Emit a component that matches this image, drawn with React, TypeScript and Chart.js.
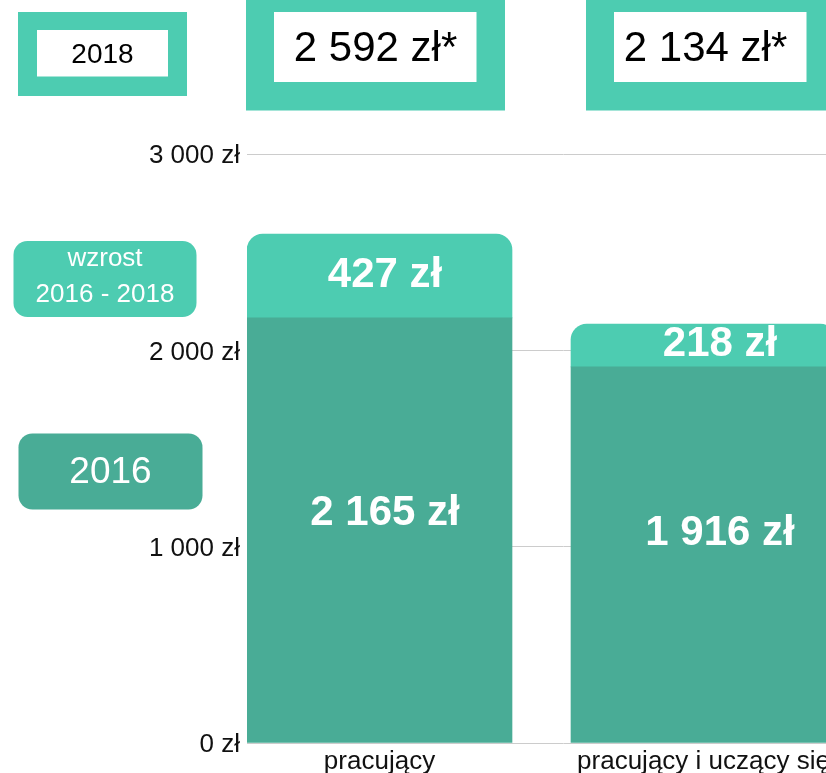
import React, { useEffect, useRef } from 'react';
import { Chart, registerables } from 'chart.js';

Chart.register(...registerables);

// ---- data ----
const categories = ['pracujący', 'pracujący i uczący się'];
const salary2016 = [2165, 1916];
const growth2016to2018 = [427, 218];
const yTickValues = [0, 1000, 2000, 3000];
const legend2018 = '2018';
const legendGrowth = ['wzrost', '2016 - 2018'];
const legend2016 = '2016';

// ---- styles ----
const LIGHT = '#4DCCB1';
const DARK = '#49AC96';
const FONT = "'Liberation Sans', Arial, sans-serif";
const TEXT = '#111111';
const X_MIN = -132.5 / 324;
const X_MAX = (880 - 379.5) / 324;
// per-bar label nudges (style only)
const LABEL_DX = [5.5, 16.5];
const BASE_LABEL_FRAC = [0.488, 0.474];
const TOTAL_DX = [-4, 2];

function fmt(v: number, star = false): string {
  return String(Math.round(v)).replace(/\B(?=(\d{3})+(?!\d))/g, ' ') + ' zł' + (star ? '*' : '');
}

const decorations = {
  id: 'decorations',
  afterDatasetsDraw(chart: any) {
    const ctx: CanvasRenderingContext2D = chart.ctx;
    const metaBase = chart.getDatasetMeta(0);
    const metaTop = chart.getDatasetMeta(1);
    ctx.save();

    // values inside bars
    ctx.fillStyle = '#ffffff';
    ctx.textAlign = 'center';
    ctx.textBaseline = 'alphabetic';
    ctx.font = `bold 42px ${FONT}`;
    metaBase.data.forEach((bar: any, i: number) => {
      const { x, y, base } = bar.getProps(['x', 'y', 'base'], true);
      ctx.fillText(fmt(salary2016[i]), x + LABEL_DX[i], y + BASE_LABEL_FRAC[i] * (base - y));
    });
    metaTop.data.forEach((bar: any, i: number) => {
      const { x, y, base } = bar.getProps(['x', 'y', 'base'], true);
      ctx.fillText(fmt(growth2016to2018[i]), x + LABEL_DX[i], (y + base) / 2 + 10.5);
    });

    // totals boxes on top
    const boxes = [
      { ox: 246, ow: 259, ix: 274, iw: 202.5 },
      { ox: 586, ow: 259, ix: 614, iw: 192.5 },
    ];
    metaTop.data.forEach((bar: any, i: number) => {
      const b = boxes[i];
      if (!b) return;
      const { x } = bar.getProps(['x'], true);
      ctx.fillStyle = LIGHT;
      ctx.fillRect(b.ox, 0, b.ow, 110.5);
      ctx.fillStyle = '#ffffff';
      ctx.fillRect(b.ix, 12, b.iw, 70);
      ctx.fillStyle = '#000000';
      ctx.font = `42px ${FONT}`;
      ctx.textAlign = 'center';
      ctx.textBaseline = 'alphabetic';
      ctx.fillText(fmt(salary2016[i] + growth2016to2018[i], true), x + TOTAL_DX[i], 61);
    });

    // legend: 2018
    ctx.fillStyle = LIGHT;
    ctx.fillRect(18, 12, 169, 84);
    ctx.fillStyle = '#ffffff';
    ctx.fillRect(37, 30, 131, 46.5);
    ctx.fillStyle = '#000000';
    ctx.font = `28px ${FONT}`;
    ctx.textAlign = 'center';
    ctx.textBaseline = 'alphabetic';
    ctx.fillText(legend2018, 102.5, 62.5);

    // legend: wzrost
    ctx.fillStyle = LIGHT;
    ctx.beginPath();
    (ctx as any).roundRect(13.5, 241, 183, 76, 14);
    ctx.fill();
    ctx.fillStyle = '#ffffff';
    ctx.font = `26px ${FONT}`;
    ctx.fillText(legendGrowth[0], 105, 265.7);
    ctx.fillText(legendGrowth[1], 105, 301.7);

    // legend: 2016
    ctx.fillStyle = DARK;
    ctx.beginPath();
    (ctx as any).roundRect(18.5, 433.5, 184, 76, 14);
    ctx.fill();
    ctx.fillStyle = '#ffffff';
    ctx.font = `37px ${FONT}`;
    ctx.fillText(legend2016, 110.5, 483.3);

    ctx.restore();
  },
};

export default function App() {
  const canvasRef = useRef<HTMLCanvasElement | null>(null);

  useEffect(() => {
    const canvas = canvasRef.current;
    if (!canvas) return;
    const chart = new Chart(canvas, {
      type: 'bar',
      data: {
        datasets: [
          {
            label: legend2016,
            data: categories.map((_, i) => ({ x: i, y: salary2016[i] })),
            backgroundColor: DARK,
            stack: 's',
            barThickness: 265,
            borderRadius: 0,
            borderSkipped: 'start',
          },
          {
            label: legendGrowth.join(' '),
            data: categories.map((_, i) => ({ x: i, y: growth2016to2018[i] })),
            backgroundColor: LIGHT,
            stack: 's',
            barThickness: 265,
            borderRadius: { topLeft: 16, topRight: 16, bottomLeft: 0, bottomRight: 0 },
            borderSkipped: 'start',
          },
        ] as any,
      },
      options: {
        responsive: false,
        animation: false,
        layout: { padding: { top: 154, left: 0, right: 0, bottom: 0 } },
        plugins: { legend: { display: false }, tooltip: { enabled: false } },
        scales: {
          x: {
            type: 'linear',
            min: X_MIN,
            max: X_MAX,
            bounds: 'data',
            offset: false,
            stacked: true,
            grid: { display: false, offset: false },
            border: { display: false },
            afterDataLimits: (s: any) => {
              s.min = X_MIN;
              s.max = X_MAX;
            },
            afterBuildTicks: (s: any) => {
              s.ticks = categories.map((_, i) => ({ value: i }));
              s.min = X_MIN;
              s.max = X_MAX;
            },
            afterFit: (s: any) => {
              s.height = 30;
            },
            ticks: {
              autoSkip: false,
              maxRotation: 0,
              minRotation: 0,
              padding: -4.5,
              color: TEXT,
              font: { family: FONT, size: 26 },
              callback: (v: any) => categories[Number(v)] ?? '',
            },
          },
          y: {
            min: 0,
            max: 3000,
            stacked: true,
            afterBuildTicks: (s: any) => {
              s.ticks = yTickValues.map((v) => ({ value: v }));
            },
            afterFit: (s: any) => {
              s.width = 247;
            },
            grid: { color: '#cccccc', drawTicks: false, lineWidth: 1 },
            border: { display: false },
            ticks: {
              padding: 7,
              color: TEXT,
              // an empty first line with a small line height nudges the label ~2px down
              font: { family: FONT, size: 26, lineHeight: 4 / 26 },
              callback: (v: any) => ['', fmt(Number(v))],
            },
          },
        } as any,
      },
      plugins: [decorations],
    });
    return () => chart.destroy();
  }, []);

  return (
    <div
      style={{
        position: 'fixed',
        left: 0,
        top: 0,
        width: 826,
        height: 773,
        overflow: 'hidden',
        background: '#ffffff',
      }}
    >
      <canvas
        ref={canvasRef}
        width={880}
        height={773}
        style={{ display: 'block', width: 880, height: 773 }}
      />
    </div>
  );
}
